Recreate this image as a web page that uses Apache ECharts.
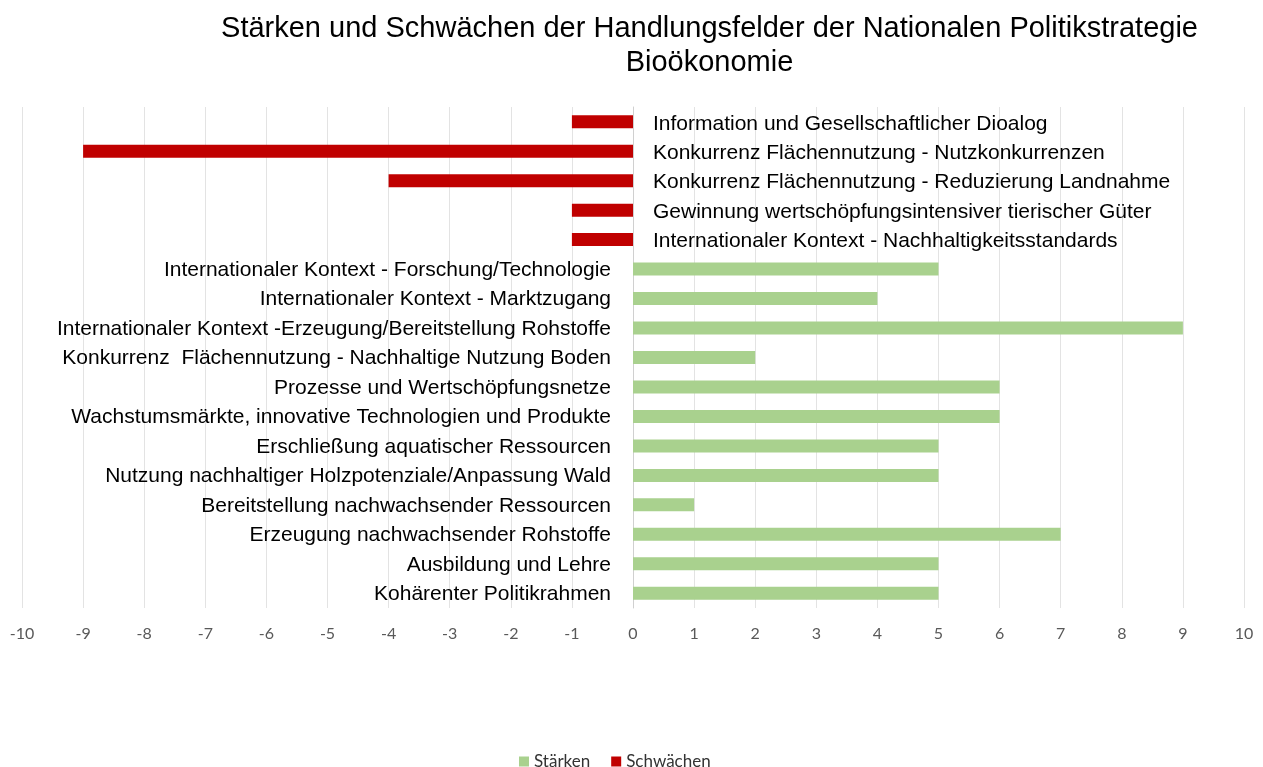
<!DOCTYPE html>
<html>
<head>
<meta charset="utf-8">
<script src="https://cdn.jsdelivr.net/npm/echarts@6/dist/echarts.min.js"></script>
<style>html,body{margin:0;padding:0;background:#fff}#c{width:1263px;height:767px}</style>
</head>
<body>
<div id="c"></div>
<script>
const categories = [
  "Information und Gesellschaftlicher Dioalog",
  "Konkurrenz Flächennutzung - Nutzkonkurrenzen",
  "Konkurrenz Flächennutzung - Reduzierung Landnahme",
  "Gewinnung wertschöpfungsintensiver tierischer Güter",
  "Internationaler Kontext - Nachhaltigkeitsstandards",
  "Internationaler Kontext - Forschung/Technologie",
  "Internationaler Kontext - Marktzugang",
  "Internationaler Kontext -Erzeugung/Bereitstellung Rohstoffe",
  "Konkurrenz  Flächennutzung - Nachhaltige Nutzung Boden",
  "Prozesse und Wertschöpfungsnetze",
  "Wachstumsmärkte, innovative Technologien und Produkte",
  "Erschließung aquatischer Ressourcen",
  "Nutzung nachhaltiger Holzpotenziale/Anpassung Wald",
  "Bereitstellung nachwachsender Ressourcen",
  "Erzeugung nachwachsender Rohstoffe",
  "Ausbildung und Lehre",
  "Kohärenter Politikrahmen"
];
const staerken = [null, null, null, null, null, 5, 4, 9, 2, 6, 6, 5, 5, 1, 7, 5, 5];
const schwaechen = [-1, -9, -4, -1, -1, null, null, null, null, null, null, null, null, null, null, null, null];
const titleLines = ["Stärken und Schwächen der Handlungsfelder der Nationalen Politikstrategie", "Bioökonomie"];

const chart = echarts.init(document.getElementById('c'));
const labelFont = { fontFamily: 'Liberation Sans, Arial, sans-serif', fontSize: 21, color: '#000' };
chart.setOption({
  animation: false,
  textStyle: { fontFamily: 'Liberation Sans, Arial, sans-serif' },
  graphic: [
    { type: 'text', x: 709.5, y: 29, style: { text: titleLines[0], align: 'center', verticalAlign: 'middle', fill: '#000', font: '29px "Liberation Sans", Arial, sans-serif' } },
    { type: 'text', x: 709.5, y: 63, style: { text: titleLines[1], align: 'center', verticalAlign: 'middle', fill: '#000', font: '29px "Liberation Sans", Arial, sans-serif' } }
  ],
  legend: {
    top: 748, left: 514,
    itemWidth: 10, itemHeight: 10, itemGap: 21,
    icon: 'rect',
    textStyle: { fontFamily: 'Lato, "Open Sans", sans-serif', fontSize: 17, color: '#333' },
    data: ['Stärken', 'Schwächen']
  },
  grid: { left: 22, right: 19, top: 107, bottom: 159 },
  xAxis: {
    type: 'value', min: -10, max: 10, interval: 1,
    axisLine: { show: false }, axisTick: { show: false },
    splitLine: { lineStyle: { color: '#e3e3e3', width: 1 } },
    axisLabel: { color: '#595959', fontSize: 16, fontFamily: 'Lato, "Open Sans", sans-serif', margin: 18 }
  },
  yAxis: {
    type: 'category', data: categories, inverse: true,
    axisLabel: { show: false }, axisTick: { show: false },
    axisLine: { show: true, onZero: true, lineStyle: { color: '#d0d0d0' } }
  },
  series: [
    {
      name: 'Stärken', type: 'bar', stack: 'all', data: staerken, barWidth: 13,
      itemStyle: { color: '#A9D18E' },
      label: { show: true, position: 'left', distance: 22, offset: [0, 1], formatter: p => categories[p.dataIndex], ...labelFont }
    },
    {
      name: 'Schwächen', type: 'bar', stack: 'all', data: schwaechen, barWidth: 13,
      itemStyle: { color: '#C00000' },
      label: { show: true, position: 'right', distance: 20, offset: [0, 2], formatter: p => categories[p.dataIndex], ...labelFont }
    }
  ]
});
</script>
</body>
</html>
